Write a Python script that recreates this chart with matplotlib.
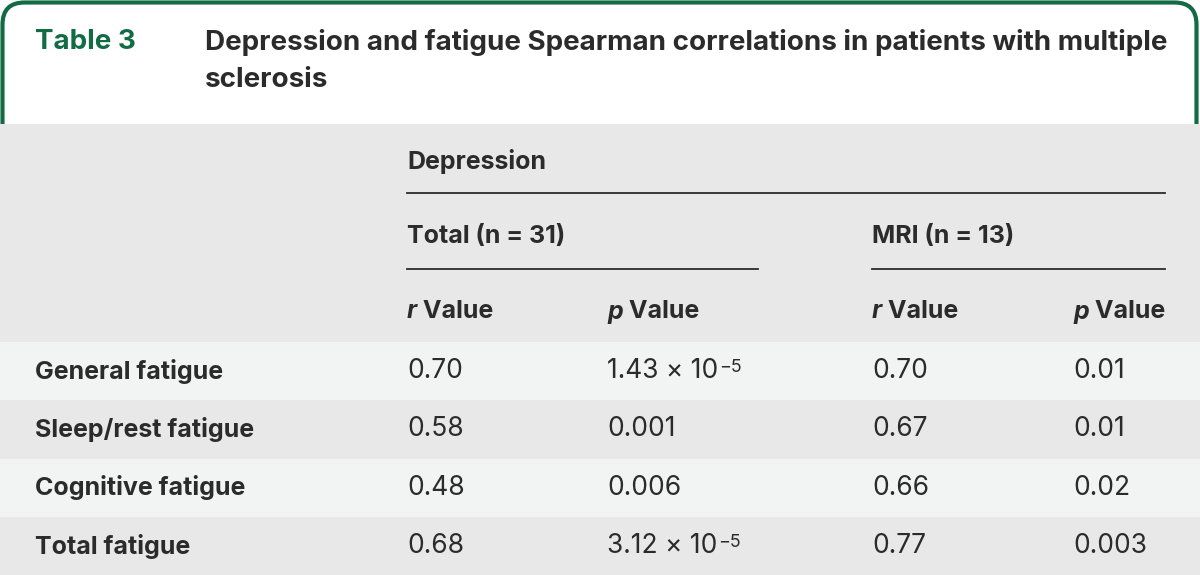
import matplotlib.pyplot as plt
from matplotlib.patches import FancyBboxPatch, Rectangle

# --- table content ---
table_label = "Table 3"
title_lines = ["Depression and fatigue Spearman correlations in patients with multiple",
               "sclerosis"]
group_header = "Depression"
subgroups = ["Total (n = 31)", "MRI (n = 13)"]
col_headers = [("r", " Value"), ("p", " Value"), ("r", " Value"), ("p", " Value")]

row_labels = ["General fatigue", "Sleep/rest fatigue", "Cognitive fatigue", "Total fatigue"]
total_r = ["0.70", "0.58", "0.48", "0.68"]
total_p = [("1.43 × 10", "−5"), ("0.001", None), ("0.006", None), ("3.12 × 10", "−5")]
mri_r = ["0.70", "0.67", "0.66", "0.77"]
mri_p = ["0.01", "0.01", "0.02", "0.003"]

GREEN = "#116b43"
DARK = "#2b2b2b"
GREY = "#e8e8e8"
LIGHT = "#f2f3f3"
FONT = "Inter"
FS = 18      # bold labels
VFS = 19     # plain values
TFS = 20

fig = plt.figure(figsize=(12, 5.75), dpi=100)
ax = fig.add_axes([0, 0, 1, 1])
ax.set_xlim(0, 1200)
ax.set_ylim(575, 0)
ax.axis("off")

# title box with green rounded border
box = FancyBboxPatch((2.5, 2.5), 1194, 200, boxstyle="round,pad=0,rounding_size=22",
                     fc="white", ec=GREEN, lw=3, zorder=1)
ax.add_patch(box)
ax.add_patch(Rectangle((0, 124), 1200, 218, fc=GREY, ec="none", zorder=2))

ax.text(35, 42, table_label, color=GREEN, fontsize=TFS, fontweight="bold",
        family=FONT, va="center", ha="left", zorder=3)
for i, line in enumerate(title_lines):
    ax.text(205, 42 + i * 38, line, color=DARK, fontsize=TFS, fontweight="bold",
            family=FONT, va="center", ha="left", zorder=3)

# header
ax.text(407, 161, group_header, color=DARK, fontsize=FS, fontweight="bold",
        family=FONT, va="center", zorder=3)
ax.plot([407, 1165], [193, 193], color=DARK, lw=1.3, zorder=3)
sub_x = [407, 872]
sub_end = [758, 1165]
for x, x2, s in zip(sub_x, sub_end, subgroups):
    ax.text(x, 237, s, color=DARK, fontsize=FS, fontweight="bold",
            family=FONT, va="center", zorder=3)
    ax.plot([x, x2], [269, 269], color=DARK, lw=1.3, zorder=3)

col_x = [407, 607, 872, 1073]
for x, (sym, rest) in zip(col_x, col_headers):
    t = ax.text(x, 312, sym, color=DARK, fontsize=FS, fontweight="bold",
                style="italic", family=FONT, va="center", zorder=3)
    ax.annotate(rest, xy=(1, 0), xycoords=t, va="bottom", ha="left",
                color=DARK, fontsize=FS, fontweight="bold", family=FONT, zorder=3)

# body rows
row_h = 58.3
for i, lab in enumerate(row_labels):
    top = 342 + i * row_h
    ax.add_patch(Rectangle((0, top), 1200, row_h, fc=LIGHT if i % 2 == 0 else GREY,
                           ec="none", zorder=2))
    yc = top + row_h / 2
    ax.text(35, yc, lab, color=DARK, fontsize=FS, fontweight="bold",
            family=FONT, va="center", zorder=3)
    ax.text(col_x[0], yc, total_r[i], color=DARK, fontsize=VFS, family=FONT,
            va="center", zorder=3)
    base, sup = total_p[i]
    t = ax.text(col_x[1], yc, base, color=DARK, fontsize=VFS, family=FONT,
                va="center", zorder=3)
    if sup:
        ax.annotate(sup, xy=(1, 1), xycoords=t, xytext=(0.5, -0.5), textcoords="offset points",
                    va="top", ha="left", color=DARK, fontsize=VFS * 0.68,
                    family=FONT, zorder=3)
    ax.text(col_x[2], yc, mri_r[i], color=DARK, fontsize=VFS, family=FONT,
            va="center", zorder=3)
    ax.text(col_x[3], yc, mri_p[i], color=DARK, fontsize=VFS, family=FONT,
            va="center", zorder=3)

fig.savefig("out.png", dpi=100)
